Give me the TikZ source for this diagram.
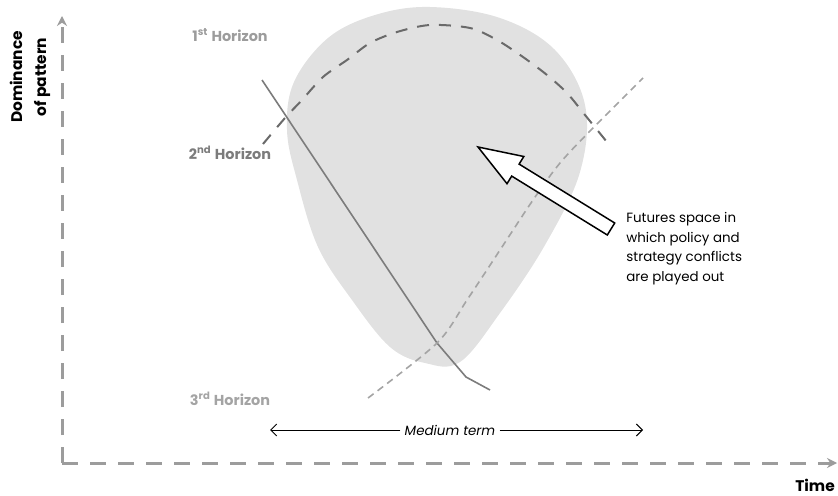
\documentclass[tikz,border=0pt]{standalone}
\usepackage{fontspec}
\setmainfont{Poppins}
\usetikzlibrary{arrows.meta,calc}

\definecolor{axisgray}{HTML}{9C9C9C}
\definecolor{blobgray}{HTML}{E1E1E1}
\definecolor{firstgray}{HTML}{6A6A6A}
\definecolor{secondgray}{HTML}{7C7C7C}
\definecolor{thirdgray}{HTML}{A4A4A4}

\begin{document}
\begin{tikzpicture}[
  x=0.5pt, y=-0.5pt,
  axis/.style={draw=axisgray, line width=1.5pt, dash pattern=on 8pt off 6pt,
    -{Stealth[length=5pt, width=5pt]}},
  horizonlabel/.style={font=\fontsize{7.2}{8.6}\selectfont\bfseries, text=#1},
  axislabel/.style={font=\fontsize{7.7}{12}\selectfont\bfseries, align=center},
  notelabel/.style={font=\fontsize{6.7}{9.75}\selectfont, align=left, anchor=north west, inner sep=0pt},
  >={Straight Barb[length=3pt, width=6pt]}
]
\useasboundingbox (0,0) rectangle (838,496);

% the futures space behind everything else
\fill[blobgray] plot[smooth cycle, tension=0.6] coordinates {
  (430,7) (500,18) (555,50) (585,105) (580,172) (545,245) (500,313)
  (460,362) (425,363) (390,347) (352,300) (318,247) (297,180) (287,130)
  (294,82) (328,38) (375,15)};

% axes, each one starting from the corner
\coordinate (origin) at (62,463);
\coordinate (ytip) at (62,16);
\coordinate (xtip) at (837,463);
\draw[axis] (origin) -- (ytip);
\draw[axis] (origin) -- (xtip);

\node[axislabel, rotate=90] (dominance) at (30,77) {Dominance\\of pattern};
\node[axislabel] (time) at (815,485) {Time};

% the three horizons
\draw[firstgray, line width=1pt, dash pattern=on 6pt off 5pt] plot[smooth] coordinates {
  (263,144) (285,118) (302,100) (323,77) (347,60) (370,43) (397,32) (430,25)
  (470,28) (497,40) (523,57) (547,75) (567,93) (585,115) (611,147)};
\draw[secondgray, line width=0.8pt, line join=round]
  (262,80) -- (437,343) -- (466,377) -- (490,390);
\draw[thirdgray, line width=0.8pt, dash pattern=on 3.5pt off 2.5pt] plot[smooth] coordinates {
  (368,398) (437,343) (467,300) (500,250) (533,200) (560,163) (593,128) (643,78)};

\node[horizonlabel=axisgray] (first) at (230,35) {1\textsuperscript{st} Horizon};
\node[horizonlabel=secondgray] (second) at (230,153) {2\textsuperscript{nd} Horizon};
\node[horizonlabel=thirdgray] (third) at (230,399) {3\textsuperscript{rd} Horizon};

% big hollow arrow pointing into the space
\draw[black, line width=0.75pt, fill=white, line join=miter]
  (478,147) -- (523.8,156.5) -- (519.1,164.1) -- (614.7,223.0)
  -- (607.3,235.0) -- (511.7,176.1) -- (507.0,183.7) -- cycle;
\node[notelabel] (note) at (626,212) {Futures space in\\which policy and\\strategy conflicts\\are played out};

% medium term span
\node[font=\fontsize{6.7}{8}\selectfont\itshape, inner sep=2pt] (medium) at (450,430) {Medium term};
\coordinate (mleft) at (270,430);
\coordinate (mright) at (643,430);
\draw[line width=0.5pt, ->] (medium.west) -- (mleft);
\draw[line width=0.5pt, ->] (medium.east) -- (mright);
\end{tikzpicture}
\end{document}
